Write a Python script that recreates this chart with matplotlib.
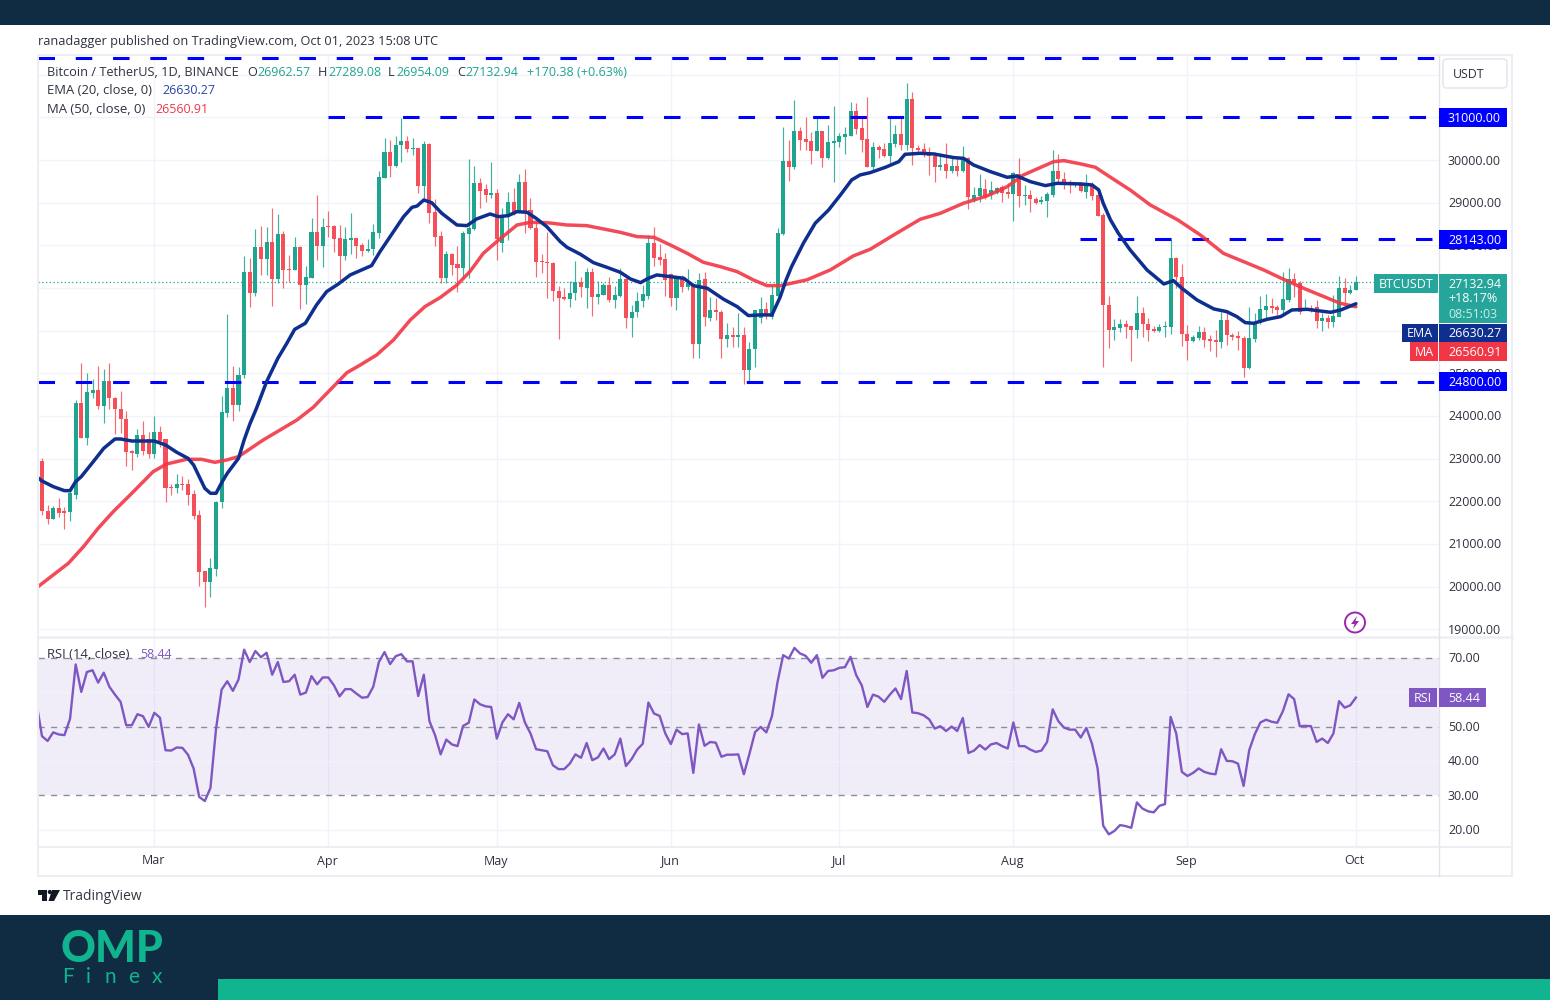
import matplotlib
matplotlib.use("Agg")
import matplotlib.pyplot as plt
from matplotlib.patches import Rectangle, FancyBboxPatch, Circle, Polygon
import pandas as pd

plt.rcParams['font.family'] = ['Open Sans', 'DejaVu Sans']

# daily candles, first one is 2023-02-09
START = "2023-02-09"

opens = [22953, 21782, 21595, 21837, 21766, 21751, 22157, 24297, 23485, 24547,
         24609, 24234, 24820, 24430, 24164, 23930, 23172, 23102, 23547, 23469,
         23110, 23625, 23453, 22344, 22305, 22415, 22407, 22180, 21680, 20361,
         20118, 20423, 21985, 24078, 24656, 24258, 24961, 27385, 26877, 27955,
         27689, 28080, 27213, 28267, 27447, 27424, 27955, 27072, 27244, 28322,
         27986, 28455, 28455, 28166, 27752, 28127, 28166, 28010, 27869, 27915,
         28298, 29586, 30180, 29860, 30352, 30438, 30266, 30289, 29391, 30375,
         28790, 28227, 27228, 27798, 27564, 27462, 28267, 28376, 29453, 29313,
         29180, 29219, 28048, 28657, 29008, 28790, 29477, 28829, 28415, 27642,
         27618, 27595, 26939, 26798, 26743, 26876, 27150, 26993, 27384, 26798,
         26837, 27071, 26720, 26813, 27204, 26306, 26447, 26689, 26814, 28063,
         27720, 27673, 27329, 26775, 27228, 27017, 27095, 25681, 27204, 26306,
         26486, 26447, 25814, 25908, 25861, 25908, 25080, 25564, 26306, 26502,
         26329, 26815, 28267, 29970, 29845, 30681, 30493, 30439, 30212, 30681,
         30040, 30407, 30431, 30548, 30571, 31142, 30743, 30493, 29845, 30314,
         30259, 30103, 30376, 30603, 30353, 31423, 30275, 30259, 30197, 30095,
         29829, 29900, 29744, 29861, 29744, 30040, 29064, 29158, 29322, 29181,
         29236, 29361, 29259, 29205, 29673, 29158, 29181, 29095, 29025, 29049,
         29181, 29744, 29548, 29470, 29416, 29439, 29259, 29416, 29173, 28713,
         26604, 26017, 26071, 26157, 26110, 26017, 26423, 26165, 26032, 25993,
         26079, 26095, 27696, 27266, 25931, 25759, 25837, 25962, 25798, 25775,
         25736, 26251, 25907, 25884, 25837, 25134, 25806, 26173, 26485, 26579,
         26563, 26485, 26720, 27204, 27126, 26501, 26540, 26548, 26235, 26306,
         26212, 26329, 26993, 26876, 26962.57]

highs = [23008, 21915, 21891, 22071, 21876, 22305, 24375, 25234, 24998, 24859,
         25179, 25101, 25234, 24453, 24586, 24117, 23203, 23688, 23891, 23633,
         24000, 23773, 23453, 22407, 22641, 22602, 22524, 22266, 21798, 20376,
         20665, 22008, 24476, 26385, 25179, 25156, 27752, 27697, 28377, 28455,
         28423, 28869, 28728, 28338, 27775, 28189, 27986, 27518, 28634, 29181,
         28634, 28814, 28478, 28478, 28423, 28767, 28166, 28049, 28142, 28493,
         29742, 30523, 30469, 30570, 30976, 30570, 30523, 30289, 30453, 30391,
         29079, 28345, 27876, 27813, 27985, 28345, 30024, 29868, 29571, 29430,
         29946, 29313, 28868, 29243, 29352, 29664, 29789, 29118, 28555, 27798,
         28305, 27618, 27048, 27009, 27173, 27642, 27267, 27478, 27462, 27173,
         27126, 27251, 27056, 27478, 27228, 26603, 26915, 27071, 28243, 28423,
         28024, 27813, 27345, 27267, 27306, 27439, 27126, 27345, 27384, 26783,
         26759, 26486, 26189, 26095, 26423, 26080, 25744, 26486, 26798, 26681,
         27071, 28400, 30782, 30470, 31407, 30782, 31017, 30650, 30978, 30689,
         30821, 31267, 30642, 30782, 31352, 31329, 30978, 31485, 30415, 30353,
         30407, 31017, 30821, 30978, 31798, 31602, 30353, 30392, 30298, 30197,
         30158, 30392, 30040, 30040, 30337, 30079, 29361, 29666, 29548, 29517,
         29376, 29416, 29455, 29728, 30040, 29416, 29298, 29142, 29158, 29244,
         30236, 30142, 29712, 29533, 29478, 29494, 29673, 29494, 29259, 28752,
         26813, 26274, 26267, 26251, 26110, 26813, 26548, 26290, 26110, 26157,
         26228, 28125, 27735, 27555, 26134, 25900, 26110, 26079, 25900, 26017,
         26446, 26407, 25938, 26001, 25884, 26548, 26407, 26813, 26860, 26759,
         26602, 27383, 27462, 27360, 27165, 26735, 26602, 26719, 26423, 26368,
         26837, 27282, 27227, 27071, 27289.08]

lows = [21680, 21462, 21587, 21642, 21353, 21532, 22055, 23477, 23328, 24414,
        24172, 23844, 24156, 23571, 23610, 22829, 22735, 23032, 23086, 23008,
        23008, 23281, 21977, 22149, 22188, 22266, 21915, 21587, 20025, 19533,
        19767, 20259, 21837, 23969, 23891, 24125, 24883, 26565, 26822, 27307,
        27307, 26588, 27127, 27010, 27150, 27424, 26510, 26619, 27244, 27658,
        27502, 28205, 27853, 27190, 27658, 27799, 27697, 27752, 27853, 27774,
        28180, 29571, 29610, 29844, 29961, 30195, 30117, 29235, 29086, 28516,
        27993, 27126, 27126, 27306, 26915, 27228, 27228, 28360, 28868, 29024,
        29102, 27657, 27853, 28126, 28712, 28790, 28298, 28376, 27267, 27345,
        26775, 26697, 25814, 26720, 26564, 26720, 26798, 26540, 26353, 26618,
        26837, 26665, 26540, 26798, 26072, 25861, 26329, 26548, 26743, 27524,
        27540, 26822, 26587, 26486, 26900, 26954, 25369, 25353, 26119, 26228,
        26252, 25353, 25627, 25627, 25627, 24760, 24807, 25158, 26173, 26275,
        26275, 26799, 28244, 29517, 29783, 30236, 30236, 29900, 30212, 29845,
        30025, 29494, 30314, 30142, 30564, 30610, 30197, 29845, 29728, 30040,
        30064, 29923, 30298, 30236, 30236, 29884, 30158, 30064, 29650, 29494,
        29767, 29572, 29689, 29626, 29728, 28845, 29025, 29025, 29088, 29080,
        29205, 29009, 29103, 28580, 28908, 28947, 28775, 28970, 28962, 28674,
        29142, 29455, 29314, 29236, 29376, 29259, 29103, 29064, 28689, 25159,
        25587, 25782, 25978, 25821, 25298, 25821, 25860, 25759, 25978, 25962,
        25860, 25915, 27009, 25650, 25314, 25728, 25782, 25626, 25533, 25376,
        25603, 25665, 25782, 25548, 24908, 25103, 25743, 26157, 26267, 26407,
        26368, 26352, 26665, 26798, 26384, 26485, 26446, 26056, 25993, 26071,
        26095, 26345, 26641, 26860, 26954.09]

closes = [21774, 21595, 21837, 21735, 21735, 22188, 24297, 23485, 24555, 24609,
          24234, 24820, 24414, 24156, 23930, 23149, 23133, 23547, 23180, 23110,
          23625, 23422, 22321, 22321, 22407, 22383, 22157, 21665, 20345, 20118,
          20439, 21985, 24086, 24656, 24258, 24968, 27385, 26877, 27955, 27682,
          28080, 27213, 28267, 27424, 27424, 27955, 27072, 27252, 28322, 27986,
          28439, 28423, 28142, 27752, 28142, 28166, 27986, 27861, 27916, 28313,
          29610, 30180, 29860, 30352, 30438, 30258, 30289, 29391, 30375, 28766,
          28204, 27228, 27798, 27540, 27462, 28282, 28399, 29453, 29282, 29180,
          29219, 28141, 28657, 29008, 28790, 29477, 28774, 28399, 27618, 27603,
          27579, 26931, 26775, 26743, 26892, 27150, 27017, 27384, 26798, 26860,
          27071, 26720, 26837, 27204, 26306, 26447, 26689, 26853, 28063, 27712,
          27657, 27189, 26775, 27228, 27017, 27111, 25681, 27189, 26329, 26486,
          26447, 25814, 25908, 25861, 25908, 25080, 25564, 26486, 26502, 26345,
          26837, 28283, 29970, 29845, 30681, 30470, 30423, 30212, 30681, 30040,
          30415, 30446, 30571, 30602, 31142, 30720, 30470, 29845, 30298, 30236,
          30103, 30392, 30603, 30353, 31423, 30275, 30236, 30158, 30095, 29829,
          29892, 29744, 29861, 29744, 30040, 29127, 29181, 29338, 29142, 29298,
          29338, 29220, 29205, 29689, 29158, 29181, 29080, 29002, 29064, 29205,
          29744, 29548, 29439, 29416, 29455, 29275, 29416, 29158, 28689, 26604,
          26018, 26079, 26165, 26095, 26017, 26423, 26149, 26017, 25993, 26095,
          26110, 27696, 27266, 25915, 25759, 25853, 25962, 25782, 25767, 25736,
          26251, 25900, 25860, 25821, 25134, 25837, 26173, 26509, 26579, 26540,
          26485, 26735, 27204, 27110, 26446, 26540, 26501, 26235, 26290, 26196,
          26345, 26993, 26876, 26946, 27132.94]

# moving averages, read every few days (day 0 = first candle)
ema_days = [-1, 0, 2, 4, 5, 6, 7, 9, 11, 13, 14, 16, 20, 22, 24, 26, 27, 28, 29, 30, 31, 32, 33, 35, 36, 37,
            38.2, 40, 42, 43.6, 45, 46.9, 48.9, 50.7, 52.8, 54.9, 58.7, 60.2, 62.6, 64.4, 65.9, 66.8, 68, 69.4,
            71.2, 73.9, 75.7, 77.4, 79.8, 81.3, 83, 84.6, 86.4, 88, 89.9, 92.3, 93.5, 95.9, 98.2, 100.6, 103,
            104.8, 106.6, 108, 109.5, 111.9, 114.3, 116, 118.5, 121.4, 123.8, 125.8, 127.9, 130, 131.5,
            132.4, 133.5, 135.6, 137.7, 140.1, 142.2, 144.2, 145.7, 147.5, 150.2, 152.6, 153.7, 156.4,
            158.8, 162.4, 164.1, 165.9, 168.9, 171.9, 173.6, 176, 178.7, 180.8, 185, 187, 188.2, 189, 190.3,
            191.7, 193.8, 196.8, 199.8, 201.5, 203, 205.7, 208.7, 211, 212.8, 214.3, 215.8, 218.2, 220.6,
            222.6, 225.3, 227.1, 229.5, 231.3, 234]
ema_vals = [22579, 22477, 22344, 22250, 22250, 22461, 22579, 22907, 23242, 23461, 23461, 23414, 23414, 23321,
            23149, 23008, 22852, 22579, 22305, 22188, 22188, 22438, 22657, 23008, 23438, 23805,
            24180, 24804, 25351, 25703, 26030, 26174, 26604, 26916, 27096, 27307, 27525, 27852, 28321, 28672, 28891,
            28922, 29063, 29000, 28751, 28477, 28462, 28618, 28735, 28672, 28696, 28790, 28774, 28633, 28438,
            28087, 27954, 27790, 27595, 27485, 27368, 27212, 27126, 27228, 27306, 27267, 27228, 27056, 26993,
            26736, 26564, 26353, 26369, 26369, 26798, 27150, 27502, 28049, 28517, 28830, 29181, 29533, 29650,
            29704, 29829, 29962, 30134, 30157, 30142, 30056, 30040, 29884, 29728, 29595, 29626, 29494, 29400,
            29454, 29439, 29416, 29298, 28986, 28596, 28282, 27891, 27422, 27094, 27173, 26993, 26720, 26509,
            26446, 26329, 26188, 26173, 26267, 26329, 26485, 26501, 26470, 26431, 26485, 26630.27]

ma_days = [-1, 4.7, 7.4, 10, 12.7, 15.7, 19.8, 22.2, 25.8, 28.4, 30.8, 32.9, 35, 39.4, 42.4, 45.4, 48.3, 51.3,
           54.3, 56.7, 59.6, 62.6, 65.6, 68.2, 70.9, 73.9, 76.2, 78.6, 81, 82.8, 84.6, 87, 89.9, 93.5, 97, 100,
           103, 106, 109, 111.9, 114.9, 117.8, 120.8, 123.8, 126.7, 129.1, 131.5, 136.2, 140.4, 144.5, 147.5,
           152.2, 156.4, 160, 164.1, 168.3, 171.9, 174.8, 177.2, 180.2, 182, 185, 187.6, 190.3, 193.8, 197.4,
           202.3, 206.3, 210.4, 214, 217.6, 221.1, 224.7, 228.3, 231.2, 234]
ma_vals = [19970, 20548, 20939, 21368, 21759, 22149, 22696, 22875, 22985, 22985, 22914, 22969, 23047, 23438,
           23672, 23906, 24203, 24609, 25015, 25197, 25431, 25783, 26251, 26564, 26775, 27071, 27384, 27813,
           28087, 28282, 28477, 28540, 28532, 28477, 28462, 28384, 28305, 28204, 28188, 28009, 27813, 27602,
           27501, 27384, 27189, 27056, 27056, 27190, 27424, 27752, 27908, 28283, 28611, 28752, 28986, 29158,
           29376, 29650, 29790, 29962, 29986, 29908, 29830, 29595, 29297, 28945, 28594, 28243, 27813, 27618,
           27422, 27204, 26993, 26798, 26642, 26560.91]

# one value per day, starts the day before the first candle
rsi_vals = [57.2, 47.2, 45.8, 48.3, 47.7, 47.5, 52.3, 68.1, 60.1, 65.9, 66.4, 62.8, 65.7, 61.6, 59.3, 57.2,
            50.4, 50.4, 53.6, 53, 49.9, 54, 52.6, 43.1, 43, 43.9, 43.8, 41.8, 37.8, 29.5, 28.3, 32.1, 49.4,
            60.8, 63.2, 60.4, 63.7, 72.4, 68.8, 72, 70.2, 71.5, 65.1, 68.8, 63, 63.2, 65.1, 59.3, 59.9, 64.7,
            62.3, 64.3, 64.3, 62, 58.8, 60.9, 60.9, 59.6, 58.4, 58.6, 61.6, 68.8, 71.7, 68.2, 70.5, 71.1, 69,
            69, 58.9, 65.1, 51.6, 47.5, 41.9, 46.2, 44.8, 44.3, 50.2, 51.1, 57.9, 56.5, 55.9, 55.7, 46.5, 51.2,
            53.6, 52.1, 56.9, 51.2, 48, 43.4, 43.1, 42.8, 38.7, 37.6, 37.6, 39.2, 41.9, 40.9, 45.2, 40.2, 41,
            43.6, 40.5, 41.9, 46.5, 38.5, 40.5, 43.3, 45, 57, 53.8, 53.1, 48, 44.9, 49.1, 47.8, 48, 36.5, 50.6,
            44.4, 45.5, 45.3, 41.2, 41.8, 41.8, 41.9, 36.1, 42.1, 48.4, 49.9, 48.3, 53, 63, 70.8, 69.8, 72.9,
            71.3, 70.6, 68.6, 70.8, 64.2, 66.2, 66.4, 67.1, 67.3, 70.3, 65, 62, 55.7, 59.3, 58.7, 57.2, 59.3,
            61.1, 58, 66.2, 54.1, 53.9, 53.3, 52.1, 49.4, 50.1, 48.7, 50, 48.7, 52.5, 42.3, 43, 44.6, 43.3,
            44.8, 45.2, 44.3, 43.6, 51.2, 44.3, 44.3, 43.3, 42.6, 43, 45.5, 55, 51.6, 49.7, 49.1, 49.1, 46.8,
            49.6, 45, 37.8, 21.1, 18.6, 19.6, 21.3, 21, 20.5, 27.9, 26.1, 25.3, 25, 26.9, 27.4, 52.8, 48, 36.8,
            35.6, 36.5, 37.8, 36.8, 36.3, 36.1, 43.4, 40, 39.9, 39.2, 32.7, 43.1, 47.8, 51.2, 52, 51.4, 51.1,
            54.5, 59.4, 58, 50.1, 50.2, 50.1, 45.5, 46.5, 45.2, 48, 57.4, 55.5, 56.2, 58.44]

# drawn levels: value, first day
level_vals = [32391, 31000, 28143, 24800]
level_days = [-1, 50.9, 184.9, -1]
level_tags = [None, "31000.00", "28143.00", "24800.00"]

price_ticks = [30000, 29000, 28000, 27000, 26000, 25000, 24000, 23000, 22000, 21000, 20000, 19000]
# these two sit fully behind the last price block in the original
hidden_ticks = [27000, 26000]
rsi_ticks = [70, 60, 50, 40, 30, 20]
month_starts = ["2023-03-01", "2023-04-01", "2023-05-01", "2023-06-01", "2023-07-01", "2023-08-01",
                "2023-09-01", "2023-10-01"]
month_labels = ["Mar", "Apr", "May", "Jun", "Jul", "Aug", "Sep", "Oct"]

UP = "#1fa58f"
DOWN = "#f5505a"
NAVY = "#0f2f8f"
RED = "#f23645"
PURPLE = "#7e57c2"
BLUE = "#0000ff"
DARK = "#0f2c42"
TEAL = "#10b48f"
GRID = "#f0f3fa"
BORDER = "#e2e4ec"
TXT = "#2f3240"

W, H = 1550, 1000
fig = plt.figure(figsize=(W / 100, H / 100), dpi=100, facecolor="white")


def add_axes_px(left, top, right, bottom):
    return fig.add_axes([left / W, 1 - bottom / H, (right - left) / W, (bottom - top) / H])


PRICE_BOX = (38, 56, 1439, 636)
RSI_BOX = (38, 638, 1439, 846)
ax = add_axes_px(*PRICE_BOX)
ax_rsi = add_axes_px(*RSI_BOX)
XLIM = (-0.71, 248.8)
PRICE_LIM = (18843, 32438)
RSI_LIM = (15.2, 75.8)

days = list(range(len(closes)))
month_days = [(pd.Timestamp(m) - pd.Timestamp(START)).days for m in month_starts]

for a in (ax, ax_rsi):
    a.set_xlim(*XLIM)
    a.set_xticks([])
    a.set_yticks([])
    for s in a.spines.values():
        s.set_visible(False)
    for d in month_days:
        a.axvline(d, color=GRID, lw=1, zorder=0)

ax.set_ylim(*PRICE_LIM)
for p in price_ticks + [31000, 32000]:
    ax.axhline(p, color=GRID, lw=1, zorder=0)

# candles
for d, o, h, l, c in zip(days, opens, highs, lows, closes):
    col = UP if c >= o else DOWN
    ax.vlines(d, l, h, color=col, lw=0.85, alpha=0.85, zorder=2)
    ax.bar(d, max(abs(c - o), 25), bottom=min(o, c), width=0.72, color=col, linewidth=0, zorder=3)

ax.plot([XLIM[0], 237.5], [closes[-1], closes[-1]], color=UP, lw=0.9, ls=(0, (1, 2)), zorder=1)

for v, d0 in zip(level_vals, level_days):
    start = max(d0, XLIM[0])
    ax.plot([start, XLIM[1]], [v, v], color=BLUE, lw=2.2, ls=(0, (5.4, 6.8)), zorder=4)

ax.plot(ma_days, ma_vals, color=RED, lw=2.5, alpha=0.9, solid_capstyle="round", solid_joinstyle="round", zorder=5)
ax.plot(ema_days, ema_vals, color=NAVY, lw=2.5, solid_capstyle="round", solid_joinstyle="round", zorder=6)

# rsi pane
ax_rsi.set_ylim(*RSI_LIM)
ax_rsi.axhspan(30, 70, color=PURPLE, alpha=0.1, linewidth=0, zorder=0)
for v in [60, 40, 20]:
    ax_rsi.axhline(v, color=GRID, lw=1, zorder=0)
for v in [70, 50, 30]:
    ax_rsi.axhline(v, color="#8a8e99", lw=1, ls=(0, (4.5, 4.5)), zorder=1)
ax_rsi.plot([d - 1 for d in range(len(rsi_vals))], rsi_vals, color=PURPLE, lw=1.7, zorder=3)

# everything else is laid out in pixels on a full figure overlay
ov = fig.add_axes([0, 0, 1, 1], zorder=10)
ov.set_xlim(0, W)
ov.set_ylim(H, 0)
ov.axis("off")
ov.patch.set_alpha(0)


def price_y(p):
    return PRICE_BOX[1] + (PRICE_LIM[1] - p) / (PRICE_LIM[1] - PRICE_LIM[0]) * (PRICE_BOX[3] - PRICE_BOX[1])


def rsi_y(v):
    return RSI_BOX[1] + (RSI_LIM[1] - v) / (RSI_LIM[1] - RSI_LIM[0]) * (RSI_BOX[3] - RSI_BOX[1])


def day_x(d):
    return PRICE_BOX[0] + (d - XLIM[0]) / (XLIM[1] - XLIM[0]) * (PRICE_BOX[2] - PRICE_BOX[0])


def txt(x, y, s, color=TXT, size=9, ha="left", z=12, **kw):
    # +1: open sans sits a touch high with va=center
    return ov.text(x, y + 1, s, color=color, fontsize=size, ha=ha, va="center", zorder=z, **kw)


def box(x0, y0, x1, y1, color, z=8):
    ov.add_patch(Rectangle((x0, y0), x1 - x0, y1 - y0, facecolor=color, edgecolor="none", zorder=z))


# page bands
box(0, 0, W, 25, DARK)
box(0, 915, W, H, DARK)
box(218, 979, W, H, TEAL, z=9)

# frame
ov.add_patch(Rectangle((38, 55), 1474, 821, fill=False, edgecolor="#eceef4", lw=1.5, zorder=7))
ov.plot([38, 1512], [637, 637], color="#eceef4", lw=1.8, zorder=7)
ov.plot([38, 1512], [847, 847], color="#eceef4", lw=1.5, zorder=7)
ov.plot([1439, 1439], [56, 876], color=BORDER, lw=1, zorder=7)

# header + legends
txt(38, 41, "ranadagger published on TradingView.com, Oct 01, 2023 15:08 UTC", size=9.15)
txt(47, 71, "Bitcoin / TetherUS, 1D, BINANCE", size=9.2)
for x_letter, letter, x_val, val in [(247, "O", 257, "26962.57"), (318, "H", 328, "27289.08"),
                                     (388, "L", 396, "26954.09"), (457, "C", 465, "27132.94")]:
    txt(x_letter, 71, letter, size=9.2)
    txt(x_val, 71, val, color=UP, size=8.9)
txt(527, 71, "+170.38 (+0.63%)", color=UP, size=9.1)
txt(47, 89.5, "EMA (20, close, 0)", size=9.4)
txt(162, 89.5, "26630.27", color="#2444a8", size=8.9)
txt(47, 108.5, "MA (50, close, 0)", size=9.45)
txt(155, 108.5, "26560.91", color=RED, size=8.9)
txt(47, 654, "RSI (14, close)", size=9.35)
txt(140, 654, "58.44", color=PURPLE, size=8.9)

# scales, kept under the tags so a covered label shows only its edge
for p in price_ticks:
    if p not in hidden_ticks:
        txt(1448, price_y(p), "%.2f" % p, z=8)
for v in rsi_ticks:
    txt(1448, rsi_y(v), "%.2f" % v, z=8)
for d, m in zip(month_days, month_labels):
    txt(day_x(d) - 1.2, 860, m, ha="center")

ov.add_patch(FancyBboxPatch((1445, 61), 60, 25, boxstyle="round,pad=2,rounding_size=4",
                            facecolor="white", edgecolor="#e6e8ee", lw=1.2, zorder=8))
txt(1453, 74, "USDT", size=8.9)

# level tags
for v, tag in zip(level_vals, level_tags):
    if tag:
        y = price_y(v)
        box(1439, y - 9.5, 1507, y + 9.5, BLUE, z=9)
        txt(1448, y, tag, color="white")

# last price block
box(1374, 274, 1438, 293, "#26a69a", z=9)
txt(1406, 283, "BTCUSDT", color="white", ha="center")
box(1439, 274, 1507, 323, "#26a69a", z=9)
txt(1448, 283, "27132.94", color="white")
txt(1448, 298, "+18.17%", color="white")
txt(1448, 313, "08:51:03", color="#c9ece6")
box(1402, 323.5, 1438, 342, NAVY, z=9)
txt(1420, 332.5, "EMA", color="white", ha="center")
box(1439, 323.5, 1507, 342, NAVY, z=9)
txt(1448, 332.5, "26630.27", color="white")
box(1410, 342, 1438, 361, RED, z=9)
txt(1424, 351, "MA", color="white", ha="center")
box(1439, 342, 1507, 361, RED, z=9)
txt(1448, 351, "26560.91", color="white")
box(1409, 688, 1437, 707, PURPLE, z=9)
txt(1423, 697, "RSI", color="white", ha="center")
box(1439, 688, 1486, 707, PURPLE, z=9)
txt(1448, 697, "58.44", color="white")

# lightning marker
ov.add_patch(Circle((1355, 622.5), 10, facecolor="white", edgecolor="#9b27af", lw=1.4, zorder=9))
ov.add_patch(Polygon([(1357, 616), (1351, 624), (1354.5, 624), (1353, 629), (1359, 621), (1355.5, 621)],
                     facecolor="#9b27af", edgecolor="none", zorder=10))

# tradingview mark
for pts in ([(38, 890), (47, 890), (47, 901), (42, 901), (42, 894.5), (38, 894.5)],
            [(52, 890), (60, 890), (54, 901), (48.5, 901)]):
    ov.add_patch(Polygon(pts, facecolor="#131722", edgecolor="none", zorder=9))
ov.add_patch(Circle((49.8, 892), 2.1, facecolor="#131722", edgecolor="none", zorder=9))
txt(63, 895, "TradingView", color="#333842", size=10)

# brand block
txt(60.5, 948, "OMP", color=TEAL, size=31, fontweight="black", fontfamily="Lato")
for x, ch in zip([62, 86, 105, 128, 152], "Finex"):
    txt(x, 976, ch, color=TEAL, size=15, fontweight="normal", fontfamily="Lato")

fig.savefig("out.png", dpi=100)
